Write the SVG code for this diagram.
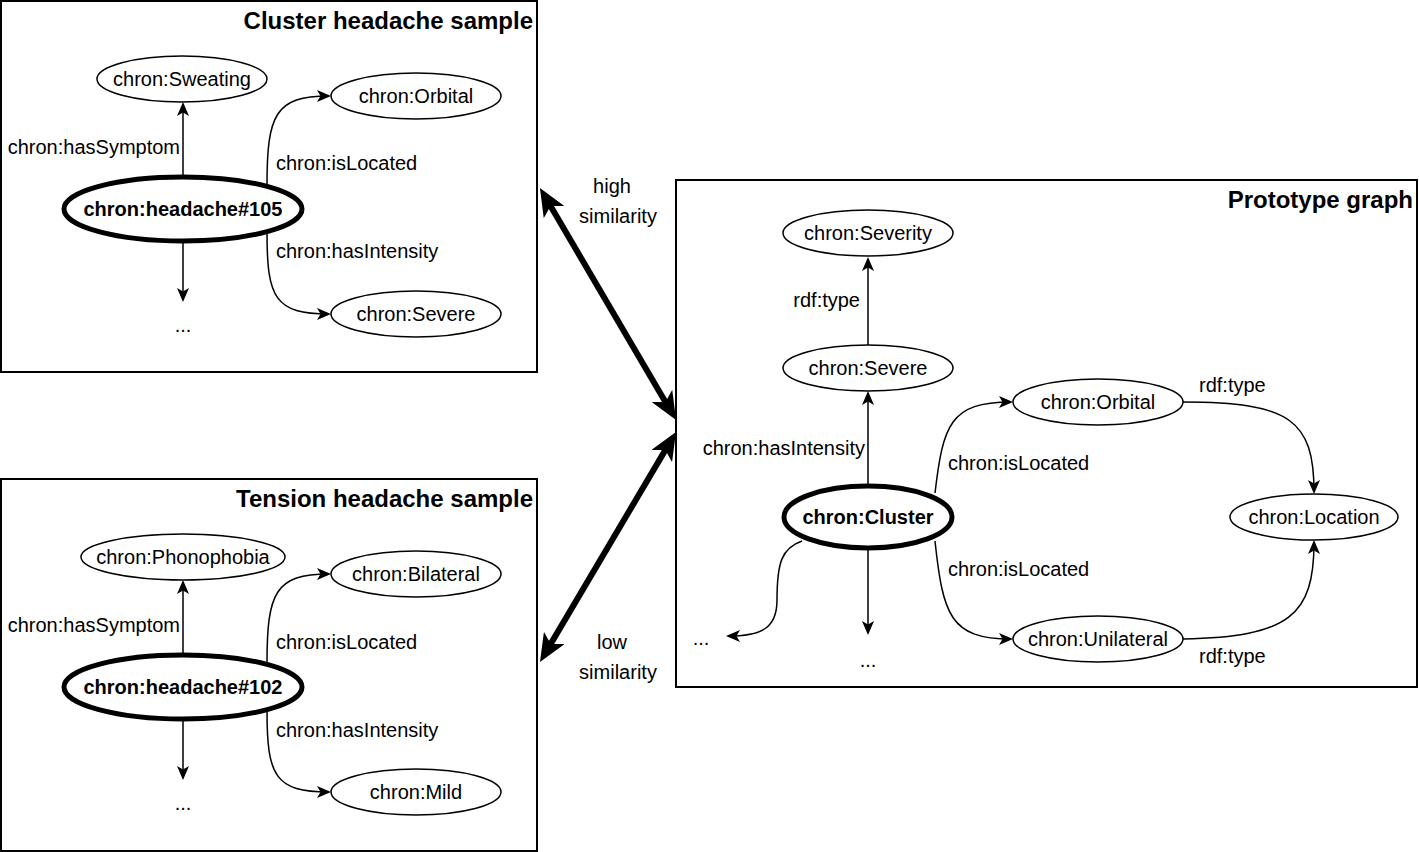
<svg xmlns="http://www.w3.org/2000/svg" width="1419" height="852" viewBox="0 0 1419 852">
<defs>
<style>
text{font-family:"Liberation Sans",Arial,Helvetica,sans-serif;font-size:20px;fill:#000}
.t{font-weight:bold;font-size:24px;text-anchor:end}
.c{text-anchor:middle}
.b{font-weight:bold}
.e{text-anchor:end}
.box{fill:#fff;stroke:#000;stroke-width:2}
.n{fill:#fff;stroke:#000;stroke-width:1.5}
.m{fill:#fff;stroke:#000;stroke-width:5}
.edge{fill:none;stroke:#000;stroke-width:1.5;marker-end:url(#arr)}
.big{fill:none;stroke:#000;stroke-width:6;marker-start:url(#bigarr);marker-end:url(#bigarr)}
</style>
<marker id="arr" viewBox="0 0 14 12" refX="12" refY="6" markerWidth="14" markerHeight="12" markerUnits="userSpaceOnUse" orient="auto">
<path d="M0,0 L14,6 L0,12 L3.5,6 Z" fill="#000"/>
</marker>
<marker id="bigarr" viewBox="0 0 28 24" refX="18" refY="12" markerWidth="28" markerHeight="24" markerUnits="userSpaceOnUse" orient="auto-start-reverse">
<path d="M0,0 L28,12 L0,24 L7,12 Z" fill="#000"/>
</marker>
</defs>
<rect width="1419" height="852" fill="#fff"/>

<g id="box-cluster">
<rect class="box" x="1" y="1" width="536" height="371"/>
<text class="t" x="533" y="29">Cluster headache sample</text>
</g>
<g id="box-tension">
<rect class="box" x="1" y="479" width="536" height="372"/>
<text class="t" x="533" y="507">Tension headache sample</text>
</g>
<g id="box-prototype">
<rect class="box" x="676" y="180" width="741" height="507"/>
<text class="t" x="1413" y="208">Prototype graph</text>
</g>

<g id="connectors">
<path class="edge" d="M183 176 L183 104"/>
<path class="edge" d="M183 242 L183 300"/>
<path class="edge" d="M267 185 C267 115 275 96 329 96"/>
<path class="edge" d="M267 233 C267 298 275 314 329 314"/>
<path class="edge" d="M183 654 L183 582"/>
<path class="edge" d="M183 720 L183 778"/>
<path class="edge" d="M267 663 C267 593 275 574 329 574"/>
<path class="edge" d="M267 711 C267 776 275 792 329 792"/>
<path class="edge" d="M868 345 L868 259"/>
<path class="edge" d="M868 485 L868 393"/>
<path class="edge" d="M868 549 L868 633"/>
<path class="edge" d="M935 493 C943 425 950 402 1011 402"/>
<path class="edge" d="M935 541 C943 615 950 639 1011 639"/>
<path class="edge" d="M1183 402 C1290 402 1314 420 1314 492"/>
<path class="edge" d="M1183 639 C1290 637 1314 615 1314 542"/>
<path class="edge" d="M802 541 C782 548 777 562 777 600 C777 628 762 636 728 636"/>
<path class="big" d="M545 196.6 L671 411.4"/>
<path class="big" d="M670.9 440.6 L545.1 653.4"/>
</g>

<g id="edge-labels">
<text class="e" x="180" y="154">chron:hasSymptom</text>
<text x="276" y="170">chron:isLocated</text>
<text x="276" y="258">chron:hasIntensity</text>
<text class="c" x="183" y="332">...</text>
<text class="e" x="180" y="632">chron:hasSymptom</text>
<text x="276" y="649">chron:isLocated</text>
<text x="276" y="737">chron:hasIntensity</text>
<text class="c" x="183" y="810">...</text>
<text class="e" x="860" y="307">rdf:type</text>
<text class="e" x="865" y="455">chron:hasIntensity</text>
<text x="948" y="470">chron:isLocated</text>
<text x="948" y="576">chron:isLocated</text>
<text x="1199" y="392">rdf:type</text>
<text x="1199" y="663">rdf:type</text>
<text class="c" x="701" y="645">...</text>
<text class="c" x="868" y="667">...</text>
<text class="c" x="612" y="193">high</text>
<text class="c" x="618" y="223">similarity</text>
<text class="c" x="612" y="649">low</text>
<text class="c" x="618" y="679">similarity</text>
</g>

<g id="n-sweating"><ellipse class="n" cx="182" cy="79" rx="85" ry="23"/><text class="c" x="182" y="86">chron:Sweating</text></g>
<g id="n-orbital1"><ellipse class="n" cx="416" cy="96" rx="85" ry="23"/><text class="c" x="416" y="103">chron:Orbital</text></g>
<g id="n-headache105"><ellipse class="m" cx="183" cy="209" rx="119" ry="32"/><text class="c b" x="183" y="216">chron:headache#105</text></g>
<g id="n-severe1"><ellipse class="n" cx="416" cy="314" rx="85" ry="23"/><text class="c" x="416" y="321">chron:Severe</text></g>

<g id="n-phonophobia"><ellipse class="n" cx="183" cy="557" rx="102" ry="23"/><text class="c" x="183" y="564">chron:Phonophobia</text></g>
<g id="n-bilateral"><ellipse class="n" cx="416" cy="574" rx="85" ry="23"/><text class="c" x="416" y="581">chron:Bilateral</text></g>
<g id="n-headache102"><ellipse class="m" cx="183" cy="687" rx="119" ry="32"/><text class="c b" x="183" y="694">chron:headache#102</text></g>
<g id="n-mild"><ellipse class="n" cx="416" cy="792" rx="85" ry="23"/><text class="c" x="416" y="799">chron:Mild</text></g>

<g id="n-severity"><ellipse class="n" cx="868" cy="233" rx="85" ry="23"/><text class="c" x="868" y="240">chron:Severity</text></g>
<g id="n-severe2"><ellipse class="n" cx="868" cy="368" rx="85" ry="23"/><text class="c" x="868" y="375">chron:Severe</text></g>
<g id="n-orbital2"><ellipse class="n" cx="1098" cy="402" rx="85" ry="23"/><text class="c" x="1098" y="409">chron:Orbital</text></g>
<g id="n-cluster"><ellipse class="m" cx="868" cy="517" rx="84" ry="31"/><text class="c b" x="868" y="524">chron:Cluster</text></g>
<g id="n-location"><ellipse class="n" cx="1314" cy="517" rx="84" ry="23"/><text class="c" x="1314" y="524">chron:Location</text></g>
<g id="n-unilateral"><ellipse class="n" cx="1098" cy="639" rx="85" ry="23"/><text class="c" x="1098" y="646">chron:Unilateral</text></g>
</svg>
